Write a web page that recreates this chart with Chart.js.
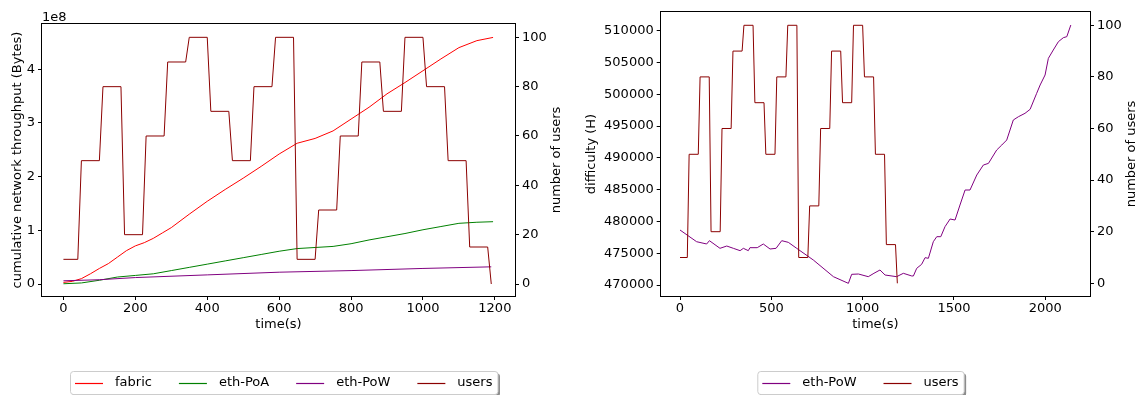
<!DOCTYPE html>
<html>
<head>
<meta charset="utf-8">
<script src="https://cdn.jsdelivr.net/npm/chart.js@4.4.1/dist/chart.umd.min.js"></script>
<style>
    html, body { margin: 0; padding: 0; background: #fff; }
    #wrap { position: relative; width: 1143px; height: 395px; overflow: hidden; }
    canvas { position: absolute; top: 0; }
    #throughput { left: 0; }
    #difficulty { left: 570px; }
</style>
</head>
<body>
<div id="wrap">
    <canvas id="throughput" width="570" height="395"></canvas>
    <canvas id="difficulty" width="573" height="395"></canvas>
</div>
<script>
// Users connected over time (same schedule for both runs)
const userTime = [0, 40, 50, 100, 110, 160, 170, 220, 230, 280, 290, 340, 350, 400, 410, 460, 470, 520, 530, 580,
    590, 640, 650, 700, 710, 760, 770, 820, 830, 880, 890, 940, 950, 1000, 1010, 1060, 1070, 1120, 1130, 1180, 1190];
const userCount = [10, 10, 50, 50, 80, 80, 20, 20, 60, 60, 90, 90, 100, 100, 70, 70, 50, 50, 80, 80,
    100, 100, 10, 10, 30, 30, 60, 60, 90, 90, 70, 70, 100, 100, 80, 80, 50, 50, 15, 15, 0];

// Cumulative throughput in bytes
const fabricTime = [0, 25, 50, 75, 100, 125, 150, 175, 200, 225, 250, 275, 300, 350, 400, 450, 500, 550, 600,
    650, 700, 750, 800, 850, 900, 950, 1000, 1050, 1100, 1150, 1195];
const fabricBytes = [0.03e8, 0.05e8, 0.10e8, 0.19e8, 0.29e8, 0.38e8, 0.50e8, 0.62e8, 0.71e8, 0.77e8, 0.85e8, 0.95e8,
    1.05e8, 1.30e8, 1.54e8, 1.76e8, 1.97e8, 2.19e8, 2.42e8, 2.62e8, 2.71e8, 2.85e8, 3.07e8, 3.29e8, 3.54e8,
    3.75e8, 3.97e8, 4.19e8, 4.40e8, 4.53e8, 4.59e8];

const poaTime = [0, 50, 100, 150, 200, 250, 300, 350, 400, 450, 500, 550, 600, 650, 700, 750, 800, 850, 900,
    950, 1000, 1050, 1100, 1150, 1195];
const poaBytes = [0.005e8, 0.02e8, 0.07e8, 0.13e8, 0.16e8, 0.19e8, 0.25e8, 0.31e8, 0.37e8, 0.43e8, 0.49e8,
    0.55e8, 0.61e8, 0.66e8, 0.68e8, 0.70e8, 0.75e8, 0.82e8, 0.88e8, 0.94e8, 1.01e8, 1.07e8, 1.13e8, 1.15e8, 1.16e8];

const powTime = [0, 100, 200, 400, 600, 800, 1000, 1190];
const powBytes = [0.06e8, 0.08e8, 0.12e8, 0.17e8, 0.22e8, 0.25e8, 0.29e8, 0.32e8];

// Mining difficulty of the PoW chain
const diffTime = [0, 91, 146, 161, 219, 256, 292, 329, 347, 374, 383, 423, 456, 493, 526, 557, 593, 639, 730,
    840, 922, 940, 977, 1031, 1062, 1095, 1123, 1186, 1223, 1269, 1278, 1296, 1323, 1342, 1360, 1387, 1406,
    1428, 1451, 1479, 1506, 1533, 1561, 1588, 1625, 1661, 1689, 1734, 1762, 1789, 1825, 1853, 1889, 1917,
    1953, 1972, 1999, 2017, 2044, 2072, 2099, 2118, 2140];
const diffValue = [478650, 476810, 476450, 476970, 475770, 476130, 475770, 475400, 475770, 475400, 475870,
    475870, 476450, 475660, 475770, 476970, 476710, 475770, 473930, 471310, 470260, 471680, 471730, 471310,
    471840, 472360, 471570, 471310, 471840, 471420, 471420, 472620, 473250, 474300, 474200, 476810, 477600,
    477600, 479170, 480380, 480220, 482580, 484940, 484940, 487300, 488870, 489130, 491230, 492020, 492800,
    495950, 496470, 497000, 497630, 500150, 501460, 503030, 505650, 506960, 508270, 508900, 509060, 510890];

// Tick values
const throughputTicks = [0, 1e8, 2e8, 3e8, 4e8];
const timeTicksShort = [0, 200, 400, 600, 800, 1000, 1200];
const timeTicksLong = [0, 500, 1000, 1500, 2000];
const userTicks = [0, 20, 40, 60, 80, 100];
const difficultyTicks = [470000, 475000, 480000, 485000, 490000, 495000, 500000, 505000, 510000];

Chart.defaults.font.family = "'DejaVu Sans', sans-serif";
Chart.defaults.font.size = 13;
Chart.defaults.color = "#000";

// Box around the plot area, exponent label and the right-hand axis title (reads bottom to top)
const framePlugin = {
    id: "frame",
    afterDraw(chart, args, opts) {
        const { ctx, chartArea: a } = chart;
        ctx.save();
        ctx.strokeStyle = "#000";
        ctx.lineWidth = 1;
        const l = Math.round(a.left) - 0.5, t = Math.round(a.top) - 0.5;
        const r = Math.round(a.right) + 0.5, b = Math.round(a.bottom) + 0.5;
        ctx.strokeRect(l, t, r - l, b - t);

        ctx.fillStyle = "#000";
        ctx.font = "13px 'DejaVu Sans'";
        if (opts.offsetText) {
            ctx.textAlign = "left";
            ctx.textBaseline = "middle";
            ctx.fillText(opts.offsetText, a.left, a.top - 6);
        }
        if (opts.rightTitle) {
            const s = chart.scales.y2;
            ctx.translate(s.right - opts.rightTitleOffset, (a.top + a.bottom) / 2);
            ctx.rotate(-Math.PI / 2);
            ctx.textAlign = "center";
            ctx.textBaseline = "middle";
            ctx.fillText(opts.rightTitle, 0, 0);
        }
        ctx.restore();
    }
};

// One-row legend in a framed box with a drop shadow
const boxLegend = {
    id: "boxLegend",
    afterDraw(chart, args, opts) {
        const ctx = chart.ctx;
        const items = opts.labels.map(lbl => {
            const index = chart.data.datasets.findIndex(d => d.label === lbl);
            const meta = chart.getDatasetMeta(index);
            return { label: lbl, color: meta.dataset.options.borderColor };
        });
        const handle = 28, textPad = 12, colGap = 27, pad = 5;
        ctx.save();
        ctx.font = "13px 'DejaVu Sans'";
        const widths = items.map(it => ctx.measureText(it.label).width);
        let w = pad * 2 + colGap * (items.length - 1);
        widths.forEach(tw => { w += handle + textPad + tw; });
        const x0 = opts.left, y0 = opts.top, h = opts.height;

        ctx.fillStyle = "rgba(0,0,0,0.45)";
        ctx.beginPath();
        ctx.roundRect(x0 + 2.5, y0 + 2.5, w, h, 3);
        ctx.fill();

        ctx.fillStyle = "#fff";
        ctx.strokeStyle = "#cccccc";
        ctx.lineWidth = 1;
        ctx.beginPath();
        ctx.roundRect(x0 + 0.5, y0 + 0.5, w, h, 3);
        ctx.fill();
        ctx.stroke();

        const cy = y0 + h / 2;
        let x = x0 + pad;
        items.forEach((it, i) => {
            ctx.strokeStyle = it.color;
            ctx.lineWidth = 1.2;
            ctx.beginPath();
            ctx.moveTo(x, Math.round(cy) + 0.5);
            ctx.lineTo(x + handle, Math.round(cy) + 0.5);
            ctx.stroke();
            ctx.fillStyle = "#000";
            ctx.textAlign = "left";
            ctx.textBaseline = "middle";
            ctx.fillText(it.label, x + handle + textPad, cy);
            x += handle + textPad + widths[i] + colGap;
        });
        ctx.restore();
    }
};

function series(label, xs, ys, color, axis, order) {
    return {
        label,
        data: xs.map((x, i) => ({ x, y: ys[i] })),
        borderColor: color,
        backgroundColor: color,
        borderWidth: 1,
        pointRadius: 0,
        tension: 0,
        yAxisID: axis,
        order
    };
}

const tickGrid = { drawOnChartArea: false, tickLength: 4, color: "#000", lineWidth: 1 };
const plain = v => String(v);
const fixedTicks = list => scale => { scale.ticks = list.map(value => ({ value })); };

// Left chart: throughput
new Chart(document.getElementById("throughput"), {
    type: "line",
    data: {
        datasets: [
            series("fabric", fabricTime, fabricBytes, "#ff0000", "y", 3),
            series("eth-PoA", poaTime, poaBytes, "#008000", "y", 2),
            series("eth-PoW", powTime, powBytes, "#800080", "y", 1),
            series("users", userTime, userCount, "#8b0000", "y2", 0)
        ]
    },
    options: {
        responsive: false,
        animation: false,
        devicePixelRatio: 1,
        layout: { padding: { top: 24, bottom: 55, left: 0, right: 0 } },
        scales: {
            x: {
                type: "linear", min: -59.6, max: 1256,
                afterBuildTicks: fixedTicks(timeTicksShort),
                ticks: { autoSkip: false, maxRotation: 0, padding: 1, callback: plain },
                grid: tickGrid, border: { display: false },
                title: { display: true, text: "time(s)", padding: { top: 0, bottom: 8 } },
                afterFit: s => { s.height = 44; }
            },
            y: {
                position: "left", min: -0.223e8, max: 4.84e8,
                afterBuildTicks: fixedTicks(throughputTicks),
                ticks: { autoSkip: false, padding: 3, callback: v => String(Math.round(v / 1e8)) },
                grid: tickGrid, border: { display: false },
                title: { display: true, text: "cumulative network throughput (Bytes)", padding: { top: 10, bottom: 0 } },
                afterFit: s => { s.width = 42; }
            },
            y2: {
                position: "right", min: -4.86, max: 105.4,
                afterBuildTicks: fixedTicks(userTicks),
                ticks: { autoSkip: false, padding: 3, callback: plain },
                grid: tickGrid, border: { display: false },
                title: { display: false },
                afterFit: s => { s.width = 55; }
            }
        },
        plugins: {
            legend: { display: false },
            tooltip: { enabled: false },
            frame: { offsetText: "1e8", rightTitle: "number of users", rightTitleOffset: 13.3 },
            boxLegend: { labels: ["fabric", "eth-PoA", "eth-PoW", "users"], left: 70, top: 371, height: 23 }
        }
    },
    plugins: [framePlugin, boxLegend]
});

// Right chart: PoW difficulty
new Chart(document.getElementById("difficulty"), {
    type: "line",
    data: {
        datasets: [
            series("eth-PoW", diffTime, diffValue, "#800080", "y", 1),
            series("users", userTime, userCount, "#8b0000", "y2", 0)
        ]
    },
    options: {
        responsive: false,
        animation: false,
        devicePixelRatio: 1,
        layout: { padding: { top: 12, bottom: 55, left: 0, right: 0 } },
        scales: {
            x: {
                type: "linear", min: -105.7, max: 2245,
                afterBuildTicks: fixedTicks(timeTicksLong),
                ticks: { autoSkip: false, maxRotation: 0, padding: 1, callback: plain },
                grid: tickGrid, border: { display: false },
                title: { display: true, text: "time(s)", padding: { top: 0, bottom: 8 } },
                afterFit: s => { s.height = 44; }
            },
            y: {
                position: "left", min: 468270, max: 512939,
                afterBuildTicks: fixedTicks(difficultyTicks),
                ticks: { autoSkip: false, padding: 3, callback: plain },
                grid: tickGrid, border: { display: false },
                title: { display: true, text: "difficulty (H)", padding: { top: 14, bottom: 0 } },
                afterFit: s => { s.width = 90.7; }
            },
            y2: {
                position: "right", min: -4.92, max: 105.15,
                afterBuildTicks: fixedTicks(userTicks),
                ticks: { autoSkip: false, padding: 3, callback: plain },
                grid: tickGrid, border: { display: false },
                title: { display: false },
                afterFit: s => { s.width = 53; }
            }
        },
        plugins: {
            legend: { display: false },
            tooltip: { enabled: false },
            frame: { rightTitle: "number of users", rightTitleOffset: 11.3 },
            boxLegend: { labels: ["eth-PoW", "users"], left: 187.3, top: 371, height: 23 }
        }
    },
    plugins: [framePlugin, boxLegend]
});
</script>
</body>
</html>
